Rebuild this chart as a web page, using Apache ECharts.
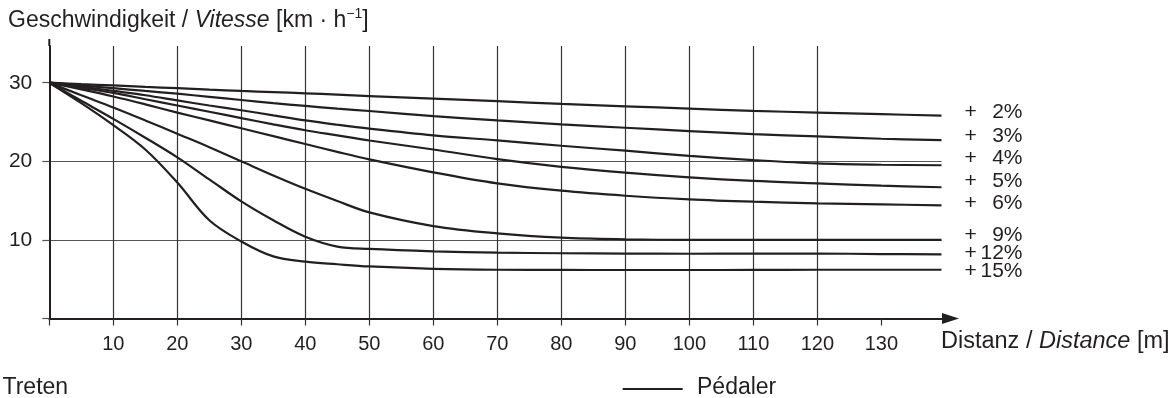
<!DOCTYPE html>
<html>
<head>
<meta charset="utf-8">
<script src="https://cdn.jsdelivr.net/npm/echarts@6/dist/echarts.min.js"></script>
<style>
html,body{margin:0;padding:0;background:#fff;}
#chart{width:1176px;height:398px;}
</style>
</head>
<body>
<div id="chart"></div>
<script>
// Distances [m] at which the curves are read
const dist = [0, 5, 10, 15, 20, 25, 30, 35, 40, 45, 50, 60, 70, 80, 90, 100, 110, 120, 130, 139.4];
// Gradients [%]
const gradients = [2, 3, 4, 5, 6, 9, 12, 15];
// Speed [km/h] per gradient
const speed2  = [30, 29.82, 29.65, 29.47, 29.3, 29.12, 28.95, 28.8, 28.65, 28.48, 28.3, 27.97, 27.65, 27.3, 27.0, 26.7, 26.42, 26.2, 26.0, 25.8];
const speed3  = [30, 29.65, 29.3, 28.95, 28.6, 28.2, 27.8, 27.4, 27.05, 26.7, 26.4, 25.75, 25.2, 24.7, 24.27, 23.85, 23.46, 23.17, 22.87, 22.7];
const speed4  = [30, 29.5, 28.95, 28.4, 27.75, 27.1, 26.5, 25.85, 25.2, 24.65, 24.15, 23.3, 22.66, 21.98, 21.35, 20.7, 20.16, 19.73, 19.56, 19.5];
const speed5  = [30, 29.35, 28.7, 27.9, 27.1, 26.3, 25.5, 24.7, 23.95, 23.3, 22.65, 21.5, 20.28, 19.3, 18.55, 17.95, 17.5, 17.2, 16.9, 16.7];
const speed6  = [30, 29.15, 28.25, 27.25, 26.2, 25.2, 24.2, 23.2, 22.2, 21.2, 20.25, 18.6, 17.2, 16.26, 15.62, 15.16, 14.86, 14.65, 14.52, 14.4];
const speed9  = [30, 28.4, 26.85, 25.2, 23.5, 21.8, 20.0, 18.2, 16.5, 14.95, 13.5, 11.76, 10.83, 10.28, 10.07, 10.0, 10.0, 10.0, 10.0, 10.0];
const speed12 = [30, 27.7, 25.4, 23.0, 20.5, 17.7, 14.9, 12.5, 10.4, 9.15, 8.85, 8.55, 8.38, 8.3, 8.26, 8.24, 8.25, 8.26, 8.2, 8.16];
const speed15 = [30, 27.4, 24.6, 21.5, 17.3, 12.5, 9.8, 7.9, 7.23, 6.9, 6.62, 6.32, 6.2, 6.18, 6.17, 6.17, 6.18, 6.2, 6.2, 6.2];
const curves = [speed2, speed3, speed4, speed5, speed6, speed9, speed12, speed15];
// Tick labels
const xTickLabels = [10, 20, 30, 40, 50, 60, 70, 80, 90, 100, 110, 120, 130];
const xTickMarks = [0, 10, 20, 30, 40, 50, 60, 70, 80, 90, 100, 110, 120, 130];
const yTickLabels = [10, 20, 30];
const yTickMarks = [0, 10, 20, 30];

// layout-only: vertical shift (px) of the end labels
const labelShift = [-3.4, -4, -7.3, -6.3, -2.6, -4.3, -1.6, 1.0];

const INK = '#231f20';
const FONT = '"Liberation Sans", Arial, Helvetica, sans-serif';

const chart = echarts.init(document.getElementById('chart'), null, {renderer: 'canvas'});

const series = curves.map((vals, i) => ({
  type: 'line',
  name: '+ ' + gradients[i] + '%',
  data: dist.map((d, j) => [d, vals[j]]),
  symbol: 'none',
  smooth: 0.35,
  clip: false,
  lineStyle: {color: INK, width: 2.2},
  endLabel: {
    show: true,
    distance: 23,
    offset: [0, labelShift[i]],
    formatter: () => '{p|+}{n|' + gradients[i] + '%}',
    rich: {
      p: {width: 16, align: 'left', fontSize: 21, fontFamily: FONT, color: INK},
      n: {width: 42, align: 'right', fontSize: 21, fontFamily: FONT, color: INK}
    }
  },
  emphasis: {disabled: true}
}));

chart.setOption({
  animation: false,
  backgroundColor: '#fff',
  textStyle: {fontFamily: FONT, color: INK},
  title: {
    left: 8,
    top: 7,
    padding: 0,
    text: '{n|Geschwindigkeit / }{i|Vitesse}{n| [km · h}{s|−1}{n|]}',
    textStyle: {
      fontWeight: 'normal',
      rich: {
        n: {fontSize: 23, fontWeight: 'normal', fontFamily: FONT, color: INK, lineHeight: 27},
        i: {fontSize: 23, fontWeight: 'normal', fontFamily: FONT, color: INK, fontStyle: 'italic', lineHeight: 27},
        s: {fontSize: 14, fontWeight: 'normal', fontFamily: FONT, color: INK, verticalAlign: 'top', lineHeight: 15}
      }
    }
  },
  grid: {left: 49.3, right: 234.5, top: 46, bottom: 79.5, containLabel: false},
  xAxis: {
    type: 'value',
    min: 0,
    max: 139.4,
    interval: 10,
    axisLine: {
      show: true,
      onZero: false,
      symbol: ['none', 'triangle'],
      symbolSize: [11, 17],
      symbolOffset: [0, 9],
      lineStyle: {color: INK, width: 2}
    },
    axisTick: {show: true, inside: false, length: 7, customValues: xTickMarks, lineStyle: {color: '#333', width: 1.2}},
    axisLabel: {show: true, margin: 16, fontSize: 20, fontFamily: FONT, color: INK, customValues: xTickLabels},
    splitLine: {show: true, showMinLine: false, showMaxLine: false, lineStyle: {color: '#333', width: 1.2}}
  },
  yAxis: {
    type: 'value',
    min: 0,
    max: 34.67,
    interval: 10,
    axisLine: {
      show: true,
      onZero: false,
      symbol: ['none', 'rect'],
      symbolSize: [2, 7],
      symbolOffset: [0, 3.5],
      lineStyle: {color: INK, width: 2}
    },
    axisTick: {show: true, inside: false, length: 7, customValues: yTickMarks, lineStyle: {color: '#555', width: 1.2}},
    axisLabel: {show: true, margin: 17, fontSize: 21, fontFamily: FONT, color: INK, customValues: yTickLabels},
    splitLine: {show: true, showMinLine: false, showMaxLine: false, lineStyle: {color: '#555', width: 1.2}}
  },
  graphic: [
    {
      type: 'text', x: 941, y: 341.5, silent: true,
      style: {
        text: '{a|Distanz / }{b|Distance}{a| [m]}',
        verticalAlign: 'middle', align: 'left',
        rich: {
          a: {fontSize: 23.5, fontFamily: FONT, fill: INK, color: INK},
          b: {fontSize: 23.5, fontFamily: FONT, fill: INK, color: INK, fontStyle: 'italic'}
        }
      }
    },
    {
      type: 'text', x: 2.5, y: 387.5, silent: true,
      style: {text: 'Treten', fontSize: 23, fontFamily: FONT, fill: INK, verticalAlign: 'middle', align: 'left'}
    },
    {
      type: 'line', silent: true,
      shape: {x1: 622.7, y1: 389, x2: 682.7, y2: 389},
      style: {stroke: INK, lineWidth: 2}
    },
    {
      type: 'text', x: 697, y: 388, silent: true,
      style: {text: 'Pédaler', fontSize: 23, fontFamily: FONT, fill: INK, verticalAlign: 'middle', align: 'left'}
    }
  ],
  series: series
});
</script>
</body>
</html>
